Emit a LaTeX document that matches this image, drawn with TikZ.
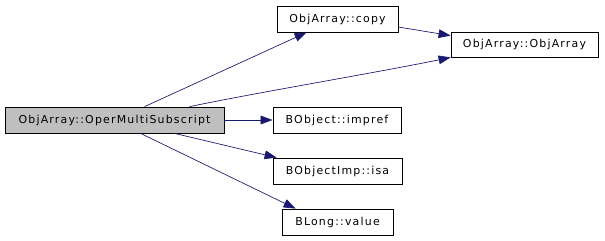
\documentclass[tikz,border=0pt]{standalone}
\usepackage{fontspec}
\newfontfamily\dfont[LetterSpace=11]{DejaVu Sans}
\usetikzlibrary{arrows.meta,calc}
\definecolor{edgeblue}{HTML}{191970}
\definecolor{nodegray}{HTML}{BFBFBF}
\begin{document}
\begin{tikzpicture}[x=0.75pt,y=-0.75pt,
  fn/.style={draw=black,fill=white,inner sep=0pt,font=\dfont\fontsize{8.2pt}{9pt}\selectfont,line width=0.6pt},
  call/.style={draw=edgeblue,line width=0.5pt,-{Triangle[length=9pt,width=6.5pt]},arrows={[fill=edgeblue]}}]
\useasboundingbox (0,0) rectangle (605,240);
\node[fn,fill=nodegray,minimum width=219*0.75pt,minimum height=26*0.75pt] (main) at (114.5,120) {ObjArray::OperMultiSubscript};
\node[fn,minimum width=121*0.75pt,minimum height=26*0.75pt] (copy) at (337.5,19) {ObjArray::copy};
\node[fn,minimum width=147*0.75pt,minimum height=25*0.75pt] (ctor) at (524.5,44.5) {ObjArray::ObjArray};
\node[fn,minimum width=128*0.75pt,minimum height=26*0.75pt] (impref) at (337,120) {BObject::impref};
\node[fn,minimum width=129*0.75pt,minimum height=26*0.75pt] (isa) at (337.5,171) {BObjectImp::isa};
\node[fn,minimum width=111*0.75pt,minimum height=26*0.75pt] (value) at (337.5,222) {BLong::value};
\draw[call] ($(main.north west)+(140,0)$) -- ($(copy.south west)+(30,0)$);
\draw[call] ($(main.north west)+(185,0)$) .. controls (260,92) and (380,72) .. ($(ctor.south west)+(0,0)$);
\draw[call] (main.east) -- (impref.west);
\draw[call] ($(main.south west)+(170,0)$) -- ($(isa.north west)+(4,0)$);
\draw[call] ($(main.south west)+(136,0)$) -- ($(value.north west)+(14,0)$);
\draw[call] ($(copy.east)+(0,8)$) -- ($(ctor.north west)+(0,4)$);
\end{tikzpicture}
\end{document}
